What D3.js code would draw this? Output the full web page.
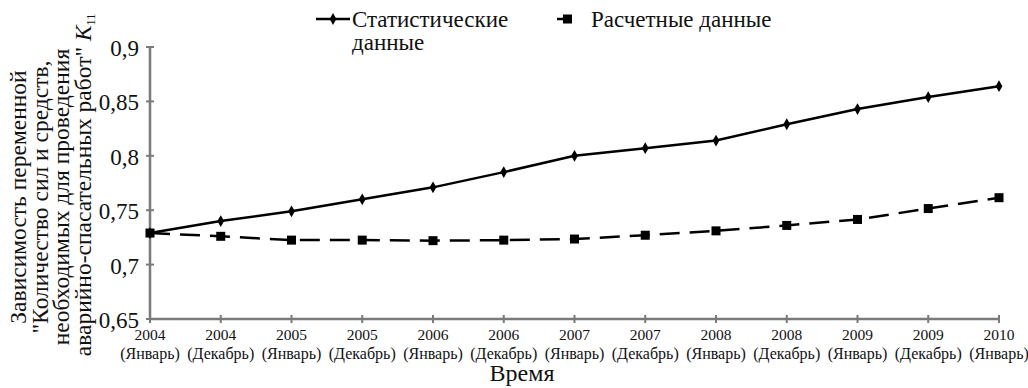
<!doctype html>
<html lang="en">
<head>
<meta charset="UTF-8">
<script src="https://d3js.org/d3.v7.min.js"></script>
<title>K11</title>
<style>
    body { margin: 0; background: #fff; }
</style>
</head>
<body>
<div class="container"></div>
<script>
    // подписи оси X: год + месяц
    const years = ['2004', '2004', '2005', '2005', '2006', '2006', '2007', '2007', '2008', '2008', '2009', '2009', '2010'];
    const months = ['(Январь)', '(Декабрь)', '(Январь)', '(Декабрь)', '(Январь)', '(Декабрь)', '(Январь)',
        '(Декабрь)', '(Январь)', '(Декабрь)', '(Январь)', '(Декабрь)', '(Январь)'];

    // статистические данные
    const stat = [0.729, 0.740, 0.749, 0.760, 0.771, 0.785, 0.800, 0.807, 0.814, 0.829, 0.843, 0.854, 0.864];
    // расчетные данные
    const calc = [0.729, 0.726, 0.7225, 0.7225, 0.722, 0.7225, 0.7235, 0.727, 0.731, 0.736, 0.7415, 0.7515, 0.7615];

    const yTicks = [0.65, 0.7, 0.75, 0.8, 0.85, 0.9];

    const W = 1028, H = 388;
    const mLeft = 150, mRight = 999, mTop = 47, mBottom = 319;
    const FONT = 'Liberation Serif';

    let svg = d3.select('.container').append('svg')
        .attr('width', W)
        .attr('height', H);

    // все подписи одним шрифтом
    function label(parent, xx, yy, size, anchor, str) {
        return parent.append('text')
            .attr('x', xx).attr('y', yy)
            .attr('font-family', FONT)
            .attr('font-size', size)
            .attr('text-anchor', anchor)
            .attr('fill', '#111')
            .text(str);
    }

    let x = d3.scalePoint().domain(d3.range(years.length)).range([mLeft, mRight]);
    let y = d3.scaleLinear().domain([0.65, 0.9]).range([mBottom, mTop]);

    const axisColor = '#7a7a7a';

    // ось Y
    svg.append('line')
        .attr('x1', mLeft).attr('x2', mLeft)
        .attr('y1', y(0.9)).attr('y2', y(0.65))
        .attr('stroke', axisColor).attr('stroke-width', 2.5);
    yTicks.forEach(function (t) {
        svg.append('line')
            .attr('x1', mLeft - 4).attr('x2', mLeft + 4)
            .attr('y1', y(t)).attr('y2', y(t))
            .attr('stroke', axisColor).attr('stroke-width', 2);
        label(svg, mLeft - 11, y(t) + 9, 23, 'end', String(t).replace('.', ','));
    });

    // ось X
    svg.append('line')
        .attr('x1', mLeft).attr('x2', mRight)
        .attr('y1', mBottom).attr('y2', mBottom)
        .attr('stroke', axisColor).attr('stroke-width', 2.5);
    years.forEach(function (yr, i) {
        svg.append('line')
            .attr('x1', x(i)).attr('x2', x(i))
            .attr('y1', mBottom - 4).attr('y2', mBottom + 4)
            .attr('stroke', axisColor).attr('stroke-width', 2);
        label(svg, x(i), mBottom + 21, 15.5, 'middle', yr);
        label(svg, x(i), mBottom + 40, 16, 'middle', months[i]);
    });

    label(svg, 522, 381, 24, 'middle', 'Время');

    // подпись оси Y (4 строки, повернуто)
    const yTitle = ['Зависимость переменной', '"Количество сил и средств,', 'необходимых для проведения',
        'аварийно-спасательных работ" '];
    let tg = svg.append('g').attr('transform', 'translate(0,197) rotate(-90)');
    yTitle.forEach(function (s, i) {
        let t = label(tg, i === 3 ? 12 : 0, 26 + i * 21.5, 23.5, 'middle', s);
        if (i === 3) {
            t.append('tspan').attr('font-style', 'italic').text('K');
            t.append('tspan').attr('dy', 4).attr('font-size', 12).text('11');
        }
    });

    // линии
    let line = d3.line().x(function (d, i) { return x(i); }).y(function (d) { return y(d); });

    svg.append('path').datum(calc)
        .attr('d', line)
        .attr('fill', 'none').attr('stroke', '#000')
        .attr('stroke-width', 2.5)
        .attr('stroke-dasharray', '20,10');

    svg.append('path').datum(stat)
        .attr('d', line)
        .attr('fill', 'none').attr('stroke', '#000')
        .attr('stroke-width', 2.5);

    // маркеры
    svg.selectAll('.sq').data(calc).enter().append('rect')
        .attr('x', function (d, i) { return x(i) - 4.5; })
        .attr('y', function (d) { return y(d) - 4.5; })
        .attr('width', 9).attr('height', 9)
        .attr('fill', '#000');

    let diamond = d3.symbol().type(d3.symbolDiamond).size(40);
    svg.selectAll('.dm').data(stat).enter().append('path')
        .attr('d', diamond)
        .attr('transform', function (d, i) { return 'translate(' + x(i) + ',' + y(d) + ')'; })
        .attr('fill', '#000');

    // легенда
    svg.append('line').attr('x1', 316).attr('x2', 350).attr('y1', 19).attr('y2', 19)
        .attr('stroke', '#000').attr('stroke-width', 2.5);
    svg.append('path').attr('d', diamond).attr('transform', 'translate(333,19)').attr('fill', '#000');
    label(svg, 352, 27, 23, 'start', 'Статистические');
    label(svg, 352, 50, 23, 'start', 'данные');

    svg.append('line').attr('x1', 557).attr('x2', 572).attr('y1', 19).attr('y2', 19)
        .attr('stroke', '#000').attr('stroke-width', 2.5);
    svg.append('rect').attr('x', 563).attr('y', 14.5).attr('width', 9).attr('height', 9).attr('fill', '#000');
    label(svg, 591, 27, 23, 'start', 'Расчетные данные');
</script>
</body>
</html>
